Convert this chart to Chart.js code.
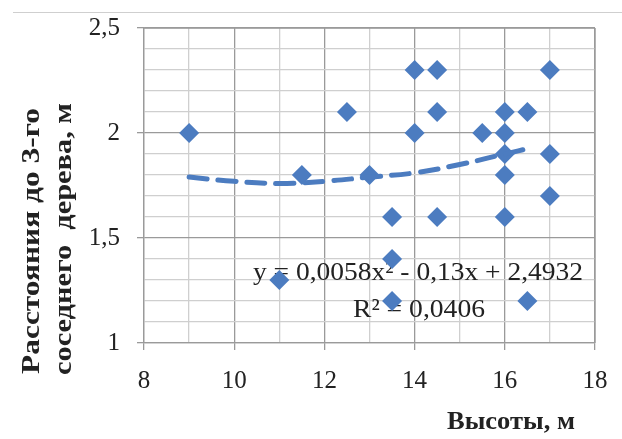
<!DOCTYPE html>
<html><head><meta charset="utf-8">
<script src="https://cdn.jsdelivr.net/npm/chart.js@4.4.0/dist/chart.umd.min.js"></script>
<style>
html,body{margin:0;padding:0;background:#fff;}
#wrap{position:relative;width:622px;height:439px;}
#topline{position:absolute;left:13px;top:12px;width:609px;height:0;border-top:1px solid #cfcfcf;}
canvas{position:absolute;left:0;top:0;}
</style></head>
<body><div id="wrap"><div id="topline"></div><canvas id="c" width="622" height="439"></canvas></div>
<script>
// Heights (m)
const heights = [9, 11, 11.5, 12.5, 13, 13.5, 13.5, 13.5, 14, 14, 14.5, 14.5, 14.5, 15.5, 16, 16, 16, 16, 16, 16.5, 16.5, 17, 17, 17];
// Distance to 3rd neighbouring tree (m)
const distances = [2.0, 1.3, 1.8, 2.1, 1.8, 1.6, 1.4, 1.2, 2.3, 2.0, 2.3, 2.1, 1.6, 2.0, 2.1, 2.0, 1.9, 1.8, 1.6, 2.1, 1.2, 2.3, 1.9, 1.7];
// Trend line points
const trendX = [9, 10, 11, 12, 13, 14, 15, 16, 16.6];
const trendY = [1.79, 1.77, 1.76, 1.77, 1.79, 1.81, 1.85, 1.90, 1.93];
const xTicks = [8, 10, 12, 14, 16, 18];
const yTicks = [1, 1.5, 2, 2.5];
const eqLine1 = 'y = 0,0058x² - 0,13x + 2,4932';
const eqLine2 = 'R² = 0,0406';
const yTitle = ['Расстояния до 3-го', 'соседнего  дерева, м'];
const xTitle = 'Высоты, м';

const BLUE = '#4c7cc0';
const serif = '"Liberation Serif", "Times New Roman", serif';
const isMajor = (v, arr) => arr.some(t => Math.abs(t - v) < 1e-6);
const fmt = v => String(Math.round(v * 10) / 10).replace('.', ',');

function stretched(ctx, text, cx, cy, width, rot) {
  const w = ctx.measureText(text).width;
  ctx.save();
  ctx.translate(cx, cy);
  if (rot) ctx.rotate(rot);
  ctx.scale(width / w, 1);
  ctx.fillText(text, 0, 0);
  ctx.restore();
}

const textPlugin = {
  id: 'texts',
  beforeDatasetsDraw(chart) {
    const ctx = chart.ctx;
    ctx.save();
    ctx.fillStyle = '#222';
    ctx.textAlign = 'center';
    ctx.textBaseline = 'middle';
    ctx.font = '26px ' + serif;
    stretched(ctx, eqLine1, 418, 273, 330);
    stretched(ctx, eqLine2, 419, 310, 132);
    ctx.restore();
  },
  afterDraw(chart) {
    const ctx = chart.ctx;
    ctx.save();
    ctx.fillStyle = '#222';
    ctx.textAlign = 'center';
    ctx.textBaseline = 'middle';
    ctx.font = 'bold 26px ' + serif;
    stretched(ctx, xTitle, 511, 422, 128);
    ctx.font = 'bold 25px ' + serif;
    stretched(ctx, yTitle[0], 33, 241, 266, -Math.PI / 2);
    stretched(ctx, yTitle[1], 65, 239, 272, -Math.PI / 2);
    ctx.restore();
  }
};

new Chart(document.getElementById('c'), {
  type: 'scatter',
  data: {
    datasets: [
      {
        type: 'line',
        data: trendX.map((x, i) => ({x, y: trendY[i]})),
        borderColor: BLUE,
        borderWidth: 5,
        borderDash: [18, 11],
        borderCapStyle: 'round',
        pointRadius: 0,
        tension: 0.4,
        fill: false,
        order: 0
      },
      {
        data: heights.map((x, i) => ({x, y: distances[i]})),
        pointStyle: 'rectRot',
        pointRadius: 10,
        pointHoverRadius: 10,
        backgroundColor: BLUE,
        borderColor: BLUE,
        borderWidth: 0,
        order: 1
      }
    ]
  },
  options: {
    responsive: false,
    animation: false,
    events: [],
    layout: {padding: {top: 28, right: 27, left: 0, bottom: 0}},
    plugins: {legend: {display: false}, tooltip: {enabled: false}},
    scales: {
      x: {
        type: 'linear', min: 8, max: 18,
        afterFit(s) { s.height = 96; s.paddingLeft = 0; s.paddingRight = 0; },
        ticks: {
          stepSize: 1, autoSkip: false, maxRotation: 0,
          color: '#222', padding: 16,
          font: {family: serif, size: 25},
          callback: v => isMajor(v, xTicks) ? String(v) : ''
        },
        grid: {
          color: c => isMajor(c.tick.value, xTicks) ? '#9a9a9a' : '#cfcfcf',
          tickColor: c => isMajor(c.tick.value, xTicks) ? '#9a9a9a' : 'rgba(0,0,0,0)',
          tickLength: 7, lineWidth: 1.3
        },
        border: {color: '#9a9a9a', width: 1.3}
      },
      y: {
        type: 'linear', min: 1, max: 2.5,
        afterFit(s) { s.width = 144; s.paddingTop = 0; s.paddingBottom = 0; },
        ticks: {
          stepSize: 0.1, autoSkip: false,
          color: '#222', padding: 17,
          font: {family: serif, size: 25},
          callback: v => isMajor(v, yTicks) ? fmt(v) : ''
        },
        grid: {
          color: c => isMajor(c.tick.value, yTicks) ? '#9a9a9a' : '#cfcfcf',
          tickColor: c => isMajor(c.tick.value, yTicks) ? '#9a9a9a' : 'rgba(0,0,0,0)',
          tickLength: 7, lineWidth: 1.3
        },
        border: {color: '#9a9a9a', width: 1.3}
      }
    }
  },
  plugins: [textPlugin, {
    id: 'rightBorder',
    beforeDatasetsDraw(chart) {
      const {ctx, chartArea: a} = chart;
      ctx.save();
      ctx.strokeStyle = '#9a9a9a';
      ctx.lineWidth = 1.3;
      ctx.beginPath();
      ctx.moveTo(a.right, a.top); ctx.lineTo(a.right, a.bottom);
      ctx.moveTo(a.left, a.top); ctx.lineTo(a.right, a.top);
      ctx.stroke();
      ctx.restore();
    }
  }]
});
</script>
</body></html>
